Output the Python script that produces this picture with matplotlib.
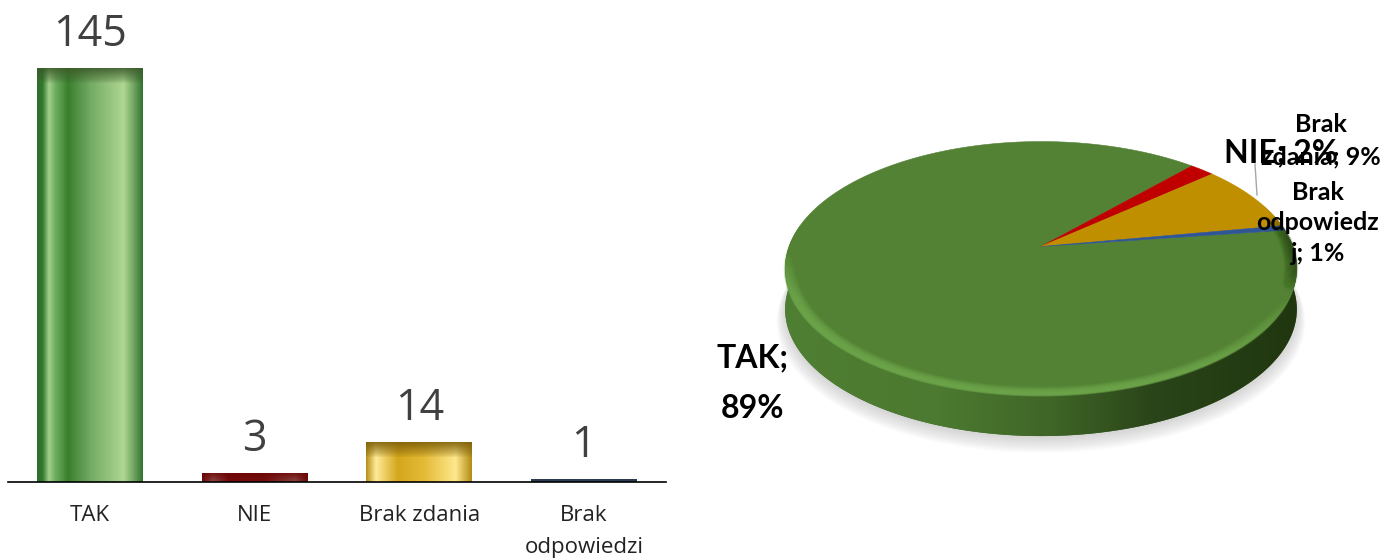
import numpy as np
import matplotlib
matplotlib.use("Agg")
import matplotlib.pyplot as plt
from matplotlib.collections import LineCollection
from matplotlib.colors import to_rgb
from matplotlib.patches import Polygon

W, H = 1382, 559

categories = ["TAK", "NIE", "Brak zdania", "Brak\nodpowiedzi"]
counts = [145, 3, 14, 1]
slice_colors = ["#548235", "#c00000", "#bf8f00", "#2f5597"]
pie_labels = ["TAK;\n89%", "NIE; 2%", "Brak\nzdania; 9%", "Brak\nodpowiedz\nj; 1%"]

# horizontal sheen of each bar: (position across the bar, colour)
bar_stops = [
    [(0, "#2f6e2b"), (.05, "#317a2e"), (.11, "#a4cf8b"), (.17, "#6fae62"), (.29, "#397f2c"),
     (.5, "#72a963"), (.82, "#afd792"), (.92, "#6fa261"), (1, "#32752f")],
    [(0, "#6e0c0c"), (.1, "#a5837c"), (.25, "#7c1010"), (.6, "#7f1a14"), (.88, "#a08078"), (1, "#701010")],
    [(0, "#b8921c"), (.09, "#feeb98"), (.3, "#d4a61c"), (.55, "#e4ba36"), (.85, "#fee88c"), (1, "#b38c16")],
    [(0, "#2f4460"), (.5, "#3a4f6c"), (1, "#2f4460")],
]
bar_tops = ["#3c5a2a", "#6b0505", "#7a5c06", "#2a3a50"]

PX_PER_UNIT = 2.855


def sheen(stops, top, ny, nx=106):
    pos = [s[0] for s in stops]
    cols = np.array([to_rgb(s[1]) for s in stops])
    across = np.linspace(0, 1, nx)
    row = np.stack([np.interp(across, pos, cols[:, i]) for i in range(3)], axis=1)
    img = np.repeat(row[None, :, :], ny, axis=0)
    a = np.clip(1 - np.arange(ny)[:, None, None] / 15.0, 0, 1) ** 0.8 * 0.85
    return img * (1 - a) + np.array(to_rgb(top)) * a


# bars ---------------------------------------------------------------------------------------
ax = plt.figure(figsize=(W / 100, H / 100), dpi=100).add_axes([8 / W, 1 - 482 / H, 658 / W, 482 / H])
fig = ax.figure
x = np.arange(len(categories))
bars = ax.bar(x, counts, width=106 / 164.5, color=slice_colors, linewidth=0, zorder=1)
for bar, stops, top in zip(bars, bar_stops, bar_tops):
    x0, w, h = bar.get_x(), bar.get_width(), bar.get_height()
    im = ax.imshow(sheen(stops, top, max(int(round(h * PX_PER_UNIT)), 2)), extent=(x0, x0 + w, 0, h),
                   aspect="auto", interpolation="bilinear", zorder=1.5)
    im.set_clip_path(bar)
ax.bar_label(bars, labels=[str(c) for c in counts], padding=8, fontsize=31, color="#404040",
             family="Open Sans")
ax.set_xlim(-0.5, 3.5)
ax.set_ylim(0, 482 / PX_PER_UNIT)
ax.set_xticks(x, categories, fontsize=16, family="Open Sans", color="#222222", linespacing=1.72)
ax.tick_params(axis="x", length=0, pad=16.5)
ax.set_yticks([])
for s in ["top", "left", "right"]:
    ax.spines[s].set_visible(False)
ax.spines["bottom"].set_linewidth(1.2)
ax.spines["bottom"].set_color("black")

# pie, drawn in figure pixels ----------------------------------------------------------------
pa = fig.add_axes([0, 0, 1, 1])
pa.axis("off")

APEX = np.array([1041.0, 246.5])
RX, RY, KP = 252.0, 123.0, 0.172
DEPTH = 41.0
START = 7.8


def project(theta, r=1.0):
    X, Y = r * np.cos(theta), r * np.sin(theta)
    d = 1 + KP * Y
    return np.column_stack([APEX[0] + RX * X / d, APEX[1] - RY * Y / d])


ring = project(np.linspace(0, 2 * np.pi, 721))

# soft shadow under the disc
for i in range(12):
    pts = APEX + (ring - APEX) * (1 + 0.003 * i) + [0, DEPTH + 2 + 0.9 * i]
    pa.add_patch(Polygon(pts, closed=True, fc="#808080", ec="none", alpha=0.028, zorder=1))

# side wall
left, right = np.argmin(ring[:, 0]), np.argmax(ring[:, 0])
band = np.vstack([project(np.linspace(np.radians(170), np.radians(380), 500)),
                  (project(np.linspace(np.radians(380), np.radians(170), 500)) + [0, DEPTH])])
side = Polygon(band, closed=True, fc="#3f6527", ec="none", zorder=2)
pa.add_patch(side)
side_x = np.linspace(0, 1, 256)
side_stops = [(0, "#4f7f32"), (.3, "#4c7a30"), (.52, "#3f6527"), (.72, "#2a4519"), (1, "#20360f")]
side_img = np.stack([np.interp(side_x, [s[0] for s in side_stops],
                               [to_rgb(s[1])[i] for s in side_stops]) for i in range(3)], axis=1)[None]
im = pa.imshow(side_img, extent=(ring[left, 0], ring[right, 0], 445, 240), aspect="auto", zorder=2.1)
im.set_clip_path(side)

# top surface, clockwise from the first slice
shares = np.array(counts) / np.sum(counts)
edges = np.radians(START) - 2 * np.pi * np.concatenate([[0], np.cumsum(shares)])
for a0, a1, col in zip(edges[:-1], edges[1:], slice_colors):
    arc = project(np.linspace(a0, a1, max(int(abs(a1 - a0) * 120), 6)))
    pa.add_patch(Polygon(np.vstack([APEX, arc]), closed=True, fc=col, ec=col, lw=0.4, zorder=3))

# bevelled rim: soft light towards lower left, dark on the right
th = np.linspace(np.radians(150), np.radians(400), 500)
shade = np.cos(th - np.radians(250))
fade_light = np.clip((0.02 - np.sin(th)) / 0.4, 0, 1)
fade_dark = np.clip((0.25 - np.sin(th)) / 0.5, 0, 1)
fade = np.where(shade > 0, fade_light, fade_dark)
radii = np.linspace(0.999, 0.955, 14)
for r, strength in zip(radii, np.linspace(0.32, 0.02, 14)):
    pts = project(th, r)
    segs = np.stack([pts[:-1], pts[1:]], axis=1)
    rgba = np.zeros((len(segs), 4))
    light = shade[:-1] > 0
    rgba[light, :3] = to_rgb("#6ea64c")
    rgba[~light, :3] = to_rgb("#1d3110")
    rgba[:, 3] = np.clip(np.abs(shade[:-1]) * 1.2, 0, 1) * fade[:-1] * strength
    pa.add_collection(LineCollection(segs, colors=rgba, linewidths=2.5, zorder=3.5, capstyle="round"))

# data labels
pa.plot([1255, 1257], [164, 195], color="#a6a6a6", lw=1, zorder=4)
label_style = dict(family="Lato", weight="bold", color="black", ha="center", va="center", zorder=5)
pa.text(753, 383, pie_labels[0], fontsize=23, linespacing=1.88, **label_style)
pa.text(1321, 141, pie_labels[2], fontsize=18, linespacing=1.5, **label_style)
pa.text(1318, 223, pie_labels[3], fontsize=18, linespacing=1.42, **label_style)
pa.text(1281, 153, pie_labels[1], fontsize=23, **label_style)

pa.set_xlim(0, W)
pa.set_ylim(H, 0)
fig.savefig("out.png", dpi=100)
